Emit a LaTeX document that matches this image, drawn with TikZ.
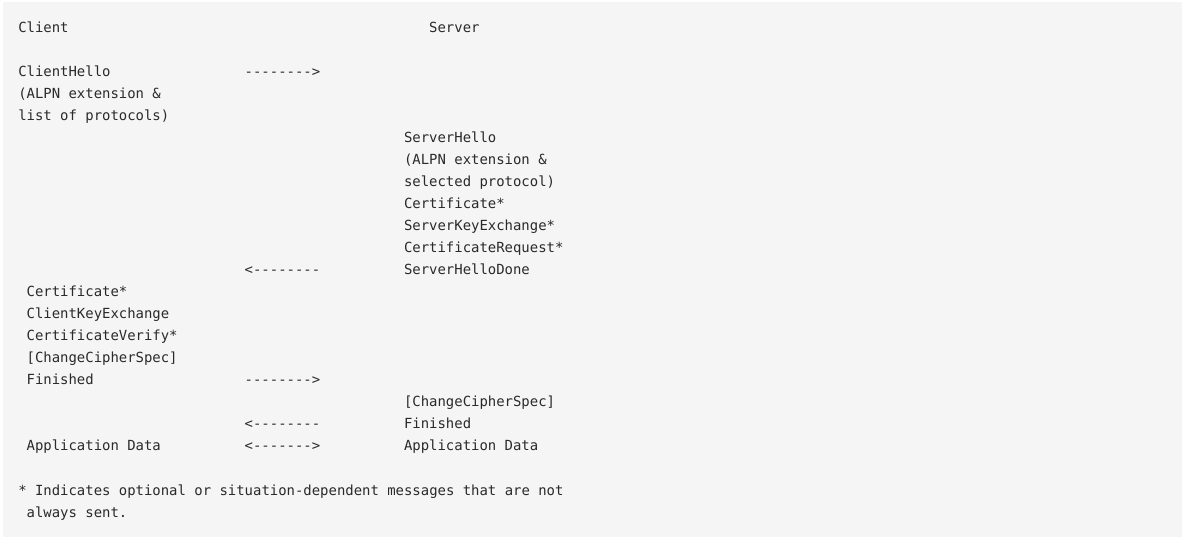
\documentclass[tikz,border=0pt]{standalone}
\usepackage{fontspec}
\setmonofont{DejaVu Sans Mono}
\definecolor{pagegray}{HTML}{F5F5F5}
\definecolor{inkgray}{HTML}{2A2A2A}
\tikzset{msg/.style={anchor=base west, inner sep=0pt, text=inkgray, font=\ttfamily\fontsize{10.45pt}{16.5pt}\selectfont}}

\begin{document}
\begin{tikzpicture}[x=6.29pt, y=-16.5pt]
		\useasboundingbox (-13.5pt,24.75pt) rectangle (873pt,-381pt);
		\fill[pagegray] (-11.25pt,23.25pt) rectangle (873pt,-378pt);

		\draw (0,0) node[msg] (client) {Client};
		\draw (49,0) node[msg] (server) {Server};

		\draw (0,2) node[msg] (chello) {ClientHello};
		\draw (0,3) node[msg] (calpn) {(ALPN extension \&};
		\draw (0,4) node[msg] (clist) {list of protocols)};
		\draw (27,2) node[msg] (arr1) {-------->};

		\draw (46,5) node[msg] (shello) {ServerHello};
		\draw (46,6) node[msg] (salpn) {(ALPN extension \&};
		\draw (46,7) node[msg] (sproto) {selected protocol)};
		\draw (46,8) node[msg] (scert) {Certificate*};
		\draw (46,9) node[msg] (skey) {ServerKeyExchange*};
		\draw (46,10) node[msg] (sreq) {CertificateRequest*};
		\draw (46,11) node[msg] (sdone) {ServerHelloDone};
		\draw (27,11) node[msg] (arr2) {<--------};

		\draw (1,12) node[msg] (ccert) {Certificate*};
		\draw (1,13) node[msg] (ckey) {ClientKeyExchange};
		\draw (1,14) node[msg] (cverify) {CertificateVerify*};
		\draw (1,15) node[msg] (cccs) {[ChangeCipherSpec]};
		\draw (1,16) node[msg] (cfin) {Finished};
		\draw (27,16) node[msg] (arr3) {-------->};

		\draw (46,17) node[msg] (sccs) {[ChangeCipherSpec]};
		\draw (46,18) node[msg] (sfin) {Finished};
		\draw (27,18) node[msg] (arr4) {<--------};

		\draw (1,19) node[msg] (cdata) {Application Data};
		\draw (27,19) node[msg] (arr5) {<------->};
		\draw (46,19) node[msg] (sdata) {Application Data};

		\draw (0,21) node[msg] (note1) {* Indicates optional or situation-dependent messages that are not};
		\draw (1,22) node[msg] (note2) {always sent.};
	\end{tikzpicture}
\end{document}
